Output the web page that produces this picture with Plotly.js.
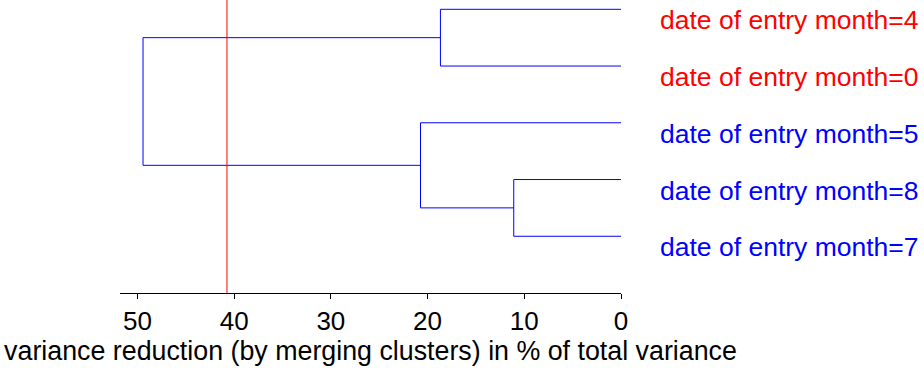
<!DOCTYPE html>
<html>
<head>
<meta charset="utf-8">
<script src="https://cdn.plot.ly/plotly-3.0.1.min.js"></script>
<style>html,body{margin:0;padding:0;background:#fff;}#chart{width:924px;height:374px;}</style>
</head>
<body>
<div id="chart"></div>
<script>
// Leaves in display order (top to bottom)
const leafLabels = ['date of entry month=4','date of entry month=0','date of entry month=5','date of entry month=8','date of entry month=7'];
const leafColors = ['#ff0000','#ff0000','#0000ff','#0000ff','#0000ff'];
// Merges: children refer to leaves (L#) or previous merges (M#); heights in % of total variance
const mergeLeft   = ['L0','L3','L2','M0'];
const mergeRight  = ['L1','L4','M1','M2'];
const mergeHeight = [18.67, 11.09, 20.73, 49.42];
const cutHeight = 40.74;
const xTicks = [0,10,20,30,40,50];

const nLeaf = leafLabels.length;
function pos(id){
  const k = parseInt(id.slice(1));
  if (id[0]==='L') return {x:0, y:nLeaf - k};
  return nodePos[k];
}
const nodePos = [];
const xs = [], ys = [];
for (let i=0;i<mergeHeight.length;i++){
  const a = pos(mergeLeft[i]), b = pos(mergeRight[i]);
  const h = mergeHeight[i];
  xs.push(a.x, h, h, b.x, null);
  ys.push(a.y, a.y, b.y, b.y, null);
  nodePos.push({x:h, y:(a.y+b.y)/2});
}

const font = 'Liberation Sans, Arial, Helvetica, sans-serif';
const traces = [{
  type:'scatter', mode:'lines', x:xs, y:ys,
  line:{color:'#0000ff', width:1}, hoverinfo:'skip', showlegend:false
}];

const annotations = leafLabels.map((t,i)=>({
  x:0, y:nLeaf - i, xref:'x', yref:'y', text:t, showarrow:false,
  xanchor:'left', yanchor:'middle', xshift:37, yshift:-11,
  font:{family:font, size:26.5, color:leafColors[i]}
}));

const layout = {
  width:924, height:374,
  margin:{l:120, r:303, t:0, b:81},
  paper_bgcolor:'#fff', plot_bgcolor:'#fff',
  showlegend:false,
  xaxis:{
    range:[51.8, 0], showgrid:false, zeroline:false,
    showline:true, linecolor:'#000', linewidth:1,
    ticks:'outside', ticklen:5, tickwidth:1, tickcolor:'#000',
    tickvals:xTicks, ticktext:xTicks.map(String),
    tickfont:{family:font, size:26, color:'#000'},
    title:{text:'variance reduction (by merging clusters) in % of total variance', font:{family:font, size:26.8, color:'#000'}, standoff:4},
    automargin:false, fixedrange:true
  },
  yaxis:{
    range:[0, 5.164], visible:false, showgrid:false, zeroline:false, fixedrange:true
  },
  shapes:[{type:'line', xref:'x', yref:'paper', x0:cutHeight, x1:cutHeight, y0:0, y1:1, line:{color:'#ff0000', width:1}}],
  annotations:annotations
};

Plotly.newPlot('chart', traces, layout, {displayModeBar:false, staticPlot:true});
</script>
</body>
</html>
